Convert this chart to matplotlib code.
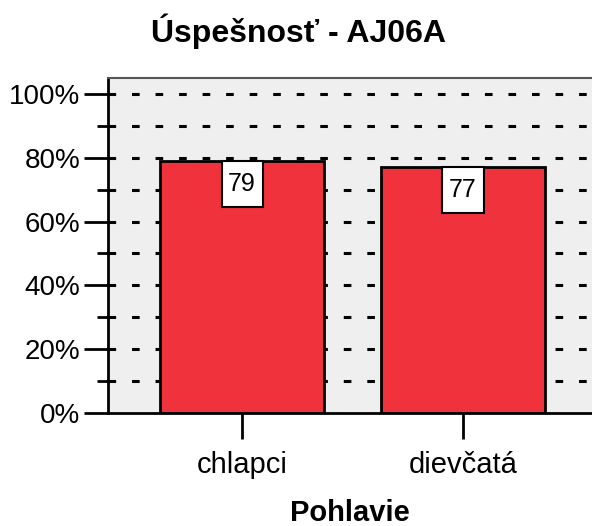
import matplotlib.pyplot as plt
from matplotlib.patches import Rectangle
import numpy as np

plt.rcParams['font.family'] = ['Liberation Sans', 'DejaVu Sans']

# data
categories = ["chlapci", "dievčatá"]
values = [79, 77]
yticks = [0, 20, 40, 60, 80, 100]

fig = plt.figure(figsize=(5.92, 5.26), dpi=100)
ax = fig.add_axes([0.1824, 0.2148, 0.8176, 0.6369])
ax.set_facecolor("#efefef")

x = np.arange(len(categories))

# dashed grid every 10%
for g in range(10, 101, 10):
    ax.axhline(g, color="black", lw=2.2, dashes=(2.5, 5.2), zorder=1)

ax.bar(x, values, width=0.74, color="#f0323c", edgecolor="black", lw=2, zorder=2)

# value boxes at the top of each bar
bw, bh = 0.186, 14.4
for xi, v in zip(x, values):
    ax.add_patch(Rectangle((xi - bw / 2, v - bh), bw, bh, fc="white", ec="black", lw=1.5, zorder=3))
    ax.text(xi, v - bh / 2, str(v), ha="center", va="center", fontsize=18, zorder=4)

ax.set_xlim(-0.607, 1.584)
ax.set_ylim(0, 105)
ax.set_yticks(yticks)
ax.set_yticklabels([f"{t}%" for t in yticks], fontsize=20)
ax.set_yticks(range(10, 101, 20), minor=True)
ax.tick_params(axis="y", which="major", length=17, width=2, pad=3)
ax.tick_params(axis="y", which="minor", length=8, width=2)
ax.set_xticks(x)
ax.set_xticklabels(categories, fontsize=21)
ax.tick_params(axis="x", length=19, width=2, pad=8)

for s in ["left", "bottom"]:
    ax.spines[s].set_linewidth(2)
ax.spines["top"].set_color("#555555")
ax.spines["top"].set_linewidth(1.5)
ax.spines["right"].set_visible(False)

fig.text(0.505, 1 - 42 / 526, "Úspešnosť - AJ06A", ha="center", va="baseline",
         fontsize=23, fontweight="bold")
fig.text(350 / 592, 1 - 521 / 526, "Pohlavie", ha="center", va="baseline",
         fontsize=21, fontweight="bold")

plt.savefig("out.png", dpi=100)
